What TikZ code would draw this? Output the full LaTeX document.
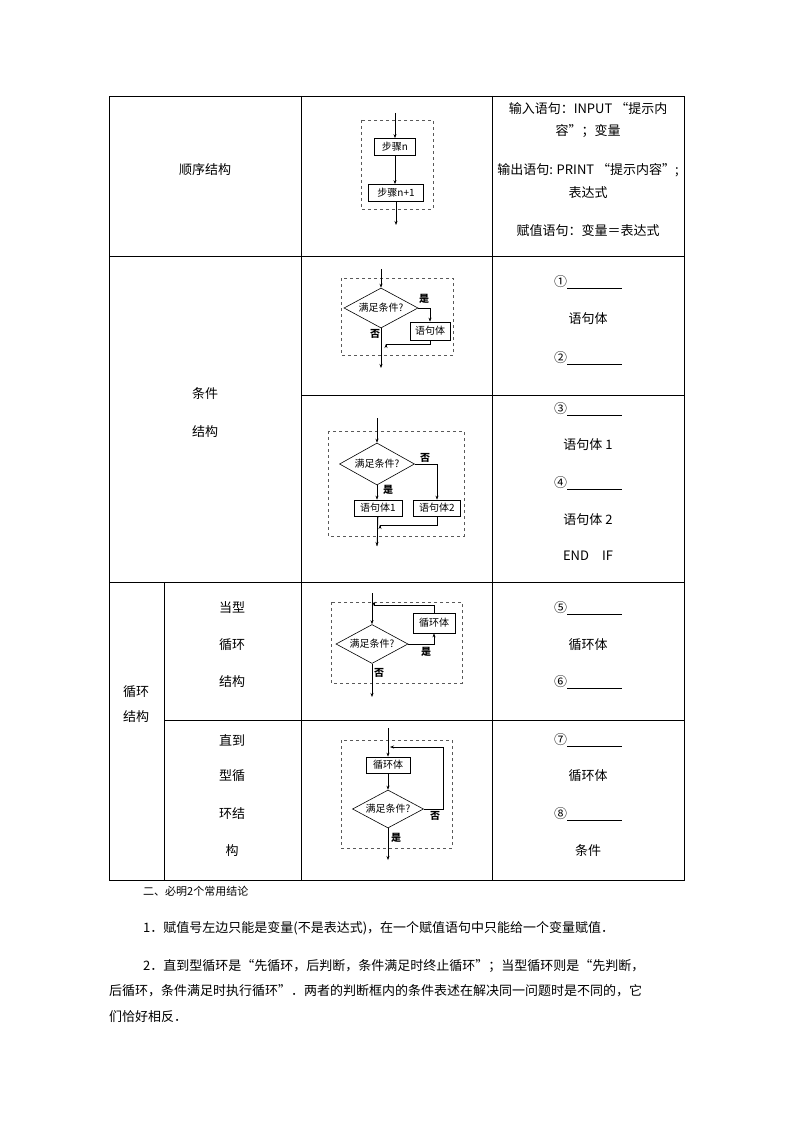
\documentclass[tikz,border=0pt]{standalone}
\usepackage{fontspec}
\setmainfont{Liberation Serif}
\newfontfamily\cjk{Noto Sans CJK SC}
\usetikzlibrary{shapes.geometric,arrows.meta}
\begin{document}
\begin{tikzpicture}[x=1pt,y=-1pt,
  txt/.style={font=\cjk\fontsize{13}{15}\selectfont,inner sep=0pt},
  fc/.style={font=\cjk\fontsize{10}{12}\selectfont\bfseries,inner sep=0pt},
  bx/.style={draw,line width=0.7pt,font=\cjk\fontsize{10}{12}\selectfont,inner sep=1.5pt,minimum height=17pt},
  dia/.style={draw,diamond,aspect=1.85,line width=0.6pt,font=\cjk\fontsize{10}{12}\selectfont,inner sep=0pt},
  dbox/.style={draw,dashed,line width=0.6pt,gray!70!black},
  ar/.style={-{Stealth[length=4pt,width=3pt]},line width=0.6pt},
  ln/.style={line width=0.6pt},
  tab/.style={line width=0.8pt}]
\useasboundingbox (0,0) rectangle (794,1123);
% table
\draw[tab] (109,96) rectangle (684,880);
\draw[tab] (301,96)--(301,880) (492,96)--(492,880);
\draw[tab] (109,256)--(684,256) (109,582)--(684,582);
\draw[tab] (301,395)--(684,395) (164,720)--(684,720) (164,582)--(164,880);
% left texts
\node[txt] (t1) at (205,170) {顺序结构};
\node[txt] (t2) at (205,394) {条件};
\node[txt] (t3) at (205,432) {结构};
\node[txt] (t4) at (136,692) {循环};
\node[txt] (t5) at (136,717) {结构};
\node[txt] (t6) at (232,608) {当型};
\node[txt] (t7) at (232,645) {循环};
\node[txt] (t8) at (232,682) {结构};
\node[txt] (t9) at (232,740) {直到};
\node[txt] (t10) at (232,776) {型循};
\node[txt] (t11) at (232,814) {环结};
\node[txt] (t12) at (232,851) {构};
% right texts
\node[txt] (r1) at (588,109) {输入语句：INPUT “提示内};
\node[txt] (r2) at (588,131) {容”；变量};
\node[txt] (r3) at (588,170) {输出语句: PRINT “提示内容”;};
\node[txt] (r4) at (588,193) {表达式};
\node[txt] (r5) at (588,231) {赋值语句：变量＝表达式};
\newcommand{\blk}[1]{#1\rule[-1.5pt]{55pt}{0.6pt}}
\node[txt] (b1) at (588,282) {\blk{①}};
\node[txt] (b2) at (588,319) {语句体};
\node[txt] (b3) at (588,358) {\blk{②}};
\node[txt] (b4) at (588,409) {\blk{③}};
\node[txt] (b5) at (588,445) {语句体 1};
\node[txt] (b6) at (588,483) {\blk{④}};
\node[txt] (b7) at (588,520) {语句体 2};
\node[txt] (b8) at (588,556) {END\quad IF};
\node[txt] (b9) at (588,608) {\blk{⑤}};
\node[txt] (b10) at (588,645) {循环体};
\node[txt] (b11) at (588,682) {\blk{⑥}};
\node[txt] (b12) at (588,740) {\blk{⑦}};
\node[txt] (b13) at (588,776) {循环体};
\node[txt] (b14) at (588,814) {\blk{⑧}};
\node[txt] (b15) at (588,851) {条件};
% sequential
\draw[dbox] (361,120) rectangle (433,209);
\node[bx,minimum width=41pt] (s1) at (395,147) {步骤\textit{n}};
\node[bx,minimum width=55pt] (s2) at (396,193) {步骤\textit{n}+1};
\coordinate (s0) at (395,113); \coordinate (s3) at (396,225);
\draw[ar] (s0)--(s1.north);
\draw[ar] (s1.south)--(s1.south|-s2.north);
\draw[ar] (s2.south)--(s3);
% condition 1
\draw[dbox] (341,278) rectangle (453,355);
\node[dia,minimum width=74pt,minimum height=40pt] (d1) at (381,308) {满足条件?};
\node[bx,minimum width=40pt,minimum height=18pt] (c1) at (430,331) {语句体};
\coordinate (c0) at (381,269); \coordinate (ce) at (381,368);
\draw[ar] (c0)--(d1.north);
\draw[ar] (d1.east)-|(c1.north);
\draw[ar] (c1.south)--++(0,4)-|(386,344);
\draw[ar] (d1.south)--(ce);
\node[fc] (cy) at (424,299) {是};
\node[fc] (cn) at (375,334) {否};
% condition 2
\draw[dbox] (328,431) rectangle (464,536);
\node[dia,minimum width=75pt,minimum height=42pt] (d2) at (377,464) {满足条件?};
\node[bx,minimum width=48pt,minimum height=16pt] (e1) at (378,508) {语句体1};
\node[bx,minimum width=47pt,minimum height=16pt] (e2) at (437,508) {语句体2};
\coordinate (e0) at (377,418); \coordinate (ee) at (377,546);
\draw[ar] (e0)--(d2.north);
\draw[ar] (d2.east)-|(e2.north);
\draw[ar] (d2.south)--(d2.south|-e1.north);
\draw[ln] (e1.south)--(ee);
\draw[ar] (ee|-e1.south)--(ee);
\draw[ar] (e2.south)--++(0,9)-|(380,525);
\node[fc] (ey) at (388,490) {是};
\node[fc] (en) at (425,458) {否};
% while loop
\draw[dbox] (331,602) rectangle (462,683);
\node[dia,minimum width=72pt,minimum height=39pt] (d3) at (372,644) {满足条件?};
\node[bx,minimum width=42pt,minimum height=20pt] (w1) at (434,623) {循环体};
\coordinate (w0) at (372,593); \coordinate (we) at (372,697);
\draw[ar] (w0)--(d3.north);
\draw[ar] (d3.east)-|(w1.south);
\draw[ar] (w1.north)--++(0,-7)-|(374,606);
\draw[ar] (d3.south)--(we);
\node[fc] (wy) at (426,652) {是};
\node[fc] (wn) at (379,673) {否};
% until loop
\draw[dbox] (341,740) rectangle (452,848);
\node[bx,minimum width=44pt,minimum height=16pt] (u1) at (388,765) {循环体};
\node[dia,minimum width=71pt,minimum height=38pt] (d4) at (388,809) {满足条件?};
\coordinate (u0) at (388,728); \coordinate (ue) at (388,860);
\draw[ar] (u0)--(u1.north);
\draw[ar] (u1.south)--(d4.north);
\draw[ar] (d4.east)-|(443,747)--(390,747);
\draw[ar] (d4.south)--(ue);
\node[fc] (un) at (435,816) {否};
\node[fc] (uy) at (396,838) {是};
% bottom text
\node[txt,anchor=west,font=\cjk\fontsize{11}{13}\selectfont] (h) at (143,891) {二、必明2个常用结论};
\node[txt,anchor=west] (p1) at (143,928) {1．赋值号左边只能是变量(不是表达式)，在一个赋值语句中只能给一个变量赋值．};
\node[txt,anchor=west] (p2) at (143,966) {2．直到型循环是“先循环，后判断，条件满足时终止循环”；当型循环则是“先判断，};
\node[txt,anchor=west] (p3) at (109,991) {后循环，条件满足时执行循环”．两者的判断框内的条件表述在解决同一问题时是不同的，它};
\node[txt,anchor=west] (p4) at (109,1017) {们恰好相反．};
\end{tikzpicture}
\end{document}
